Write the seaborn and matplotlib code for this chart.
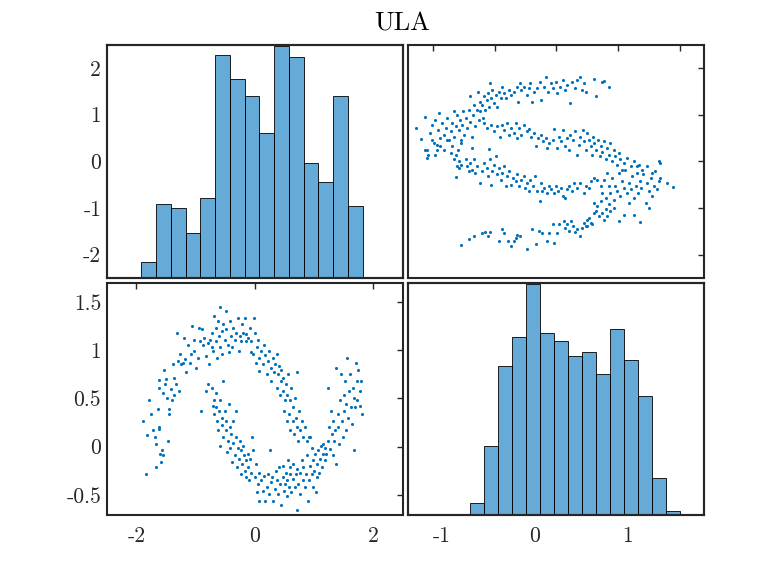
import matplotlib
matplotlib.use("Agg")
from matplotlib import pyplot as plt
import numpy as np
import pandas as pd
import seaborn as sns

# Histogram of variable 1 (top-left): first bin edge, bin width, counts
h1_start = -1.914
h1_width = 0.249
h1_counts = [8, 38, 36, 23, 41, 114, 102, 93, 74, 119, 113, 59, 49, 93, 37]

# Histogram of variable 2 (bottom-right)
h2_start = -0.691
h2_width = 0.150
h2_counts = [6, 35, 76, 91, 118, 93, 89, 81, 83, 72, 95, 79, 61, 19, 2]

# Bottom-left scatter (x = var 1, y = var 2): upper arch and lower "U"
arch_pts = [
    (-1.89, 0.27), (-1.84, -0.28), (-1.82, 0.12), (-1.78, 0.48), (-1.75, 0.34), (-1.72, 0.17),
    (-1.69, 0.10), (-1.67, -0.21), (-1.66, 0.03), (-1.64, 0.39), (-1.62, 0.20), (-1.61, 0.18),
    (-1.60, -0.08), (-1.58, -0.16), (-1.56, -0.04), (-1.55, -0.09), (-1.62, 0.69), (-1.61, 0.61),
    (-1.55, 0.56), (-1.54, 0.80), (-1.51, 0.65), (-1.50, 0.70), (-1.49, 0.51), (-1.47, 0.06),
    (-1.45, 0.34), (-1.44, 0.39), (-1.41, 0.60), (-1.40, 0.48), (-1.38, 0.86), (-1.37, 0.71),
    (-1.36, 0.54), (-1.33, 0.65), (-1.32, 1.18), (-1.30, 0.89), (-1.28, 0.58), (-1.27, 0.96),
    (-1.24, 0.86), (-1.21, 0.87), (-1.19, 1.13), (-1.17, 0.91), (-1.16, 0.77), (-1.13, 1.06),
    (-1.10, 0.87), (-1.07, 0.96), (-1.06, 1.25), (-1.03, 1.11), (-1.02, 0.99), (-0.99, 0.82),
    (-0.96, 0.92), (-0.94, 1.23), (-0.93, 1.10), (-0.90, 0.37), (-0.89, 1.22), (-0.88, 1.06),
    (-0.85, 1.13), (-0.82, 0.94), (-0.79, 1.08), (-0.77, 0.86), (-0.76, 1.11), (-0.73, 1.04),
    (-0.72, 1.18), (-0.71, 0.99), (-0.68, 1.36), (-0.66, 1.23), (-0.65, 1.10), (-0.64, 0.92),
    (-0.62, 1.31), (-0.60, 1.15), (-0.59, 1.04), (-0.58, 1.45), (-0.56, 1.20), (-0.55, 0.96),
    (-0.54, 1.27), (-0.51, 1.11), (-0.49, 1.41), (-0.48, 1.22), (-0.45, 1.06), (-0.44, 0.98),
    (-0.42, 1.31), (-0.40, 1.15), (-0.38, 1.03), (-0.37, 1.23), (-0.34, 1.11), (-0.31, 1.18),
    (-0.28, 1.34), (-0.27, 0.99), (-0.25, 1.15), (-0.23, 1.10), (-0.21, 1.27), (-0.20, 1.18),
    (-0.17, 1.34), (-0.15, 1.10), (-0.14, 1.17), (-0.11, 1.13), (-0.08, 1.23), (-0.07, 0.98),
    (-0.06, 1.10), (-0.03, 0.96), (-0.01, 1.34), (0.00, 1.18), (0.02, 0.87), (0.03, 1.03),
    (0.06, 1.11), (0.07, 0.92), (0.08, 0.79), (0.11, 0.99), (0.14, 0.86), (0.15, 1.06),
    (0.17, 0.95), (0.20, 0.75), (0.23, 0.89), (0.24, 0.99), (0.27, 0.82), (0.28, 0.68),
    (0.31, 0.92), (0.32, 0.77), (0.34, 0.86), (0.37, 0.61), (0.38, 0.96), (0.40, 0.75),
    (0.41, 0.84), (0.42, 0.54), (0.44, 0.68), (0.45, 0.80), (0.47, 0.58), (0.48, 0.71),
    (0.49, 0.37), (0.51, 0.48), (0.53, 0.65), (0.54, 0.27), (0.55, 0.54), (0.56, 0.75),
    (0.58, 0.34), (0.59, 0.48), (0.60, 0.17), (0.62, 0.61), (0.64, 0.27), (0.65, 0.41),
    (0.67, 0.13), (0.68, 0.51), (0.69, 0.30), (0.71, 0.77), (0.72, 0.20), (0.73, 0.06),
    (0.75, 0.37), (0.76, 0.17), (0.79, 0.27), (0.82, 0.10), (0.85, 0.20), (0.88, 0.06),
    (0.92, 0.10), (0.96, -0.01),
]
u_pts = [
    (-0.82, 0.58), (-0.79, 0.65), (-0.73, 0.61), (-0.71, 0.42), (-0.69, 0.48), (-0.68, 0.34),
    (-0.66, 0.41), (-0.65, 0.56), (-0.64, 0.27), (-0.62, 0.17), (-0.60, 0.37), (-0.59, 0.48),
    (-0.58, 0.01), (-0.56, 0.30), (-0.55, 0.22), (-0.54, 0.68), (-0.53, 0.10), (-0.51, 0.37),
    (-0.49, 0.27), (-0.48, 0.17), (-0.47, -0.06), (-0.45, 0.06), (-0.44, 0.44), (-0.42, 0.20),
    (-0.41, -0.01), (-0.40, 0.13), (-0.38, -0.16), (-0.37, 0.04), (-0.36, 0.27), (-0.34, -0.09),
    (-0.32, 0.37), (-0.31, 0.10), (-0.30, -0.21), (-0.28, -0.01), (-0.27, -0.13), (-0.25, 0.06),
    (-0.24, -0.28), (-0.23, -0.04), (-0.21, -0.18), (-0.20, 0.01), (-0.18, -0.09), (-0.17, -0.25),
    (-0.15, -0.14), (-0.14, -0.32), (-0.12, -0.08), (-0.11, -0.21), (-0.10, -0.35), (-0.08, -0.13),
    (-0.06, -0.27), (-0.04, 0.10), (-0.03, -0.04), (0.00, -0.32), (0.02, -0.18), (0.03, -0.47),
    (0.06, -0.39), (0.07, -0.56), (0.08, -0.27), (0.11, -0.35), (0.14, -0.46), (0.15, -0.30),
    (0.17, -0.56), (0.20, -0.42), (0.23, -0.28), (0.24, -0.49), (0.25, -0.04), (0.27, -0.37),
    (0.30, -0.32), (0.31, -0.56), (0.34, -0.44), (0.36, -0.25), (0.37, -0.35), (0.40, -0.49),
    (0.41, -0.21), (0.42, -0.39), (0.45, -0.61), (0.47, -0.32), (0.48, -0.20), (0.49, -0.46),
    (0.51, -0.39), (0.53, -0.27), (0.54, -0.51), (0.55, -0.35), (0.56, -0.14), (0.58, -0.42),
    (0.59, -0.28), (0.60, -0.21), (0.62, -0.47), (0.64, -0.34), (0.65, -0.18), (0.68, -0.42),
    (0.69, -0.28), (0.71, -0.66), (0.72, -0.23), (0.73, -0.39), (0.76, -0.49), (0.77, -0.27),
    (0.79, -0.14), (0.81, -0.35), (0.82, -0.21), (0.85, -0.42), (0.86, -0.28), (0.88, -0.09),
    (0.90, -0.56), (0.92, -0.35), (0.93, -0.20), (0.94, 0.10), (0.96, -0.28), (0.98, -0.14),
    (0.99, -0.42), (1.00, -0.25), (1.02, -0.08), (1.03, -0.47), (1.05, -0.18), (1.06, -0.32),
    (1.07, -0.04), (1.09, -0.27), (1.10, -0.13), (1.12, 0.01), (1.13, -0.21), (1.15, -0.08),
    (1.16, 0.03), (1.18, -0.14), (1.19, -0.01), (1.21, -0.08), (1.23, 0.61), (1.24, 0.06),
    (1.26, 0.20), (1.27, -0.02), (1.28, 0.37), (1.30, 0.13), (1.32, -0.09), (1.33, 0.27),
    (1.34, 0.06), (1.36, 0.17), (1.37, 0.82), (1.38, -0.18), (1.40, 0.34), (1.41, 0.20),
    (1.43, 0.03), (1.44, 0.48), (1.45, 0.75), (1.47, 0.27), (1.49, 0.10), (1.50, 0.54),
    (1.51, 0.37), (1.53, 0.68), (1.54, 0.17), (1.55, 0.44), (1.56, 0.92), (1.58, 0.30),
    (1.60, 0.58), (1.61, 0.75), (1.62, 0.41), (1.64, 0.23), (1.66, 0.61), (1.67, 0.51),
    (1.68, -0.04), (1.69, 0.41), (1.71, 0.87), (1.72, 0.68), (1.73, 0.48), (1.75, 0.80),
    (1.77, 0.58), (1.78, 0.42), (1.80, 0.68), (1.81, 0.34),
]

# Top-right scatter: top arc, middle band, lower band, right lobe, bottom band
top_arc_pts = [
    (-2.28, 0.71), (-2.20, 0.48), (-2.12, 0.95), (-2.10, 0.25), (-2.08, 0.14), (-2.04, 0.60),
    (-2.01, 0.78), (-1.98, 0.39), (-1.96, 0.89), (-1.94, 0.25), (-1.92, 0.68), (-1.90, 1.03),
    (-1.88, 0.50), (-1.85, 0.82), (-1.82, 0.57), (-1.79, 0.71), (-1.77, 0.93), (-1.74, 0.46),
    (-1.71, 0.64), (-1.69, 0.82), (-1.66, 0.53), (-1.65, 1.07), (-1.63, 0.75), (-1.61, 1.00),
    (-1.59, 0.25), (-1.58, 0.68), (-1.56, 0.89), (-1.55, 0.46), (-1.52, 0.78), (-1.51, 1.07),
    (-1.50, 0.57), (-1.47, 0.93), (-1.44, 0.71), (-1.42, 1.10), (-1.40, 1.39), (-1.39, 0.85),
    (-1.36, 0.53), (-1.35, 1.00), (-1.34, 1.21), (-1.31, 0.75), (-1.29, 1.10), (-1.27, 1.49),
    (-1.25, 0.89), (-1.24, 1.28), (-1.23, 1.07), (-1.20, 1.21), (-1.18, 0.93), (-1.17, 1.39),
    (-1.15, 1.10), (-1.13, 1.32), (-1.11, 1.46), (-1.09, 1.17), (-1.08, 1.67), (-1.06, 1.35),
    (-1.04, 1.53), (-1.01, 1.25), (-0.98, 1.42), (-0.96, 1.17), (-0.93, 1.49), (-0.90, 1.35),
    (-0.88, 1.60), (-0.85, 1.46), (-0.81, 1.35), (-0.77, 1.53), (-0.74, 1.42), (-0.69, 1.49),
    (-0.64, 1.60), (-0.62, 1.28), (-0.59, 1.67), (-0.57, 1.53), (-0.52, 1.60), (-0.48, 1.42),
    (-0.44, 1.57), (-0.42, 1.67), (-0.39, 1.28), (-0.36, 1.49), (-0.31, 1.57), (-0.26, 1.71),
    (-0.24, 1.32), (-0.20, 1.60), (-0.16, 1.80), (-0.14, 1.49), (-0.09, 1.67), (-0.05, 1.57),
    (-0.01, 1.71), (0.02, 1.46), (0.06, 1.60), (0.11, 1.74), (0.14, 1.53), (0.18, 1.64),
    (0.23, 1.25), (0.26, 1.71), (0.30, 1.57), (0.34, 1.74), (0.38, 1.81), (0.42, 1.53),
    (0.45, 1.67), (0.49, 1.49), (0.61, 1.76), (0.64, 1.39), (0.75, 1.71), (0.78, 1.73),
    (0.85, 1.59),
]
mid_band_pts = [
    (-2.12, 0.25), (-2.09, 0.07), (-2.01, 0.46), (-1.96, 0.14), (-1.93, 0.36), (-1.89, 0.32),
    (-1.82, 0.25), (-1.77, 0.46), (-1.71, 0.18), (-1.69, 0.32), (-1.66, 0.04), (-1.63, 0.14),
    (-1.61, -0.11), (-1.58, 0.00), (-1.55, 0.39), (-1.36, 0.28), (-1.09, 0.26),
    (-1.17, 0.82), (-1.12, 0.71), (-1.06, 0.78), (-1.01, 0.64), (-0.96, 0.75), (-0.91, 0.53),
    (-0.88, 0.78), (-0.84, 0.68), (-0.79, 0.82), (-0.77, 0.57), (-0.73, 0.71), (-0.69, 0.60),
    (-0.66, 0.82), (-0.63, 0.50), (-0.61, 0.71), (-0.57, 0.57), (-0.52, 0.78), (-0.48, 0.64),
    (-0.44, 0.69), (-0.41, 0.53), (-0.36, 0.60), (-0.32, 0.33), (-0.30, 0.50), (-0.25, 0.57),
    (-0.21, 0.43), (-0.17, 0.50), (-0.15, 0.28), (-0.12, 0.39), (-0.06, 0.46), (-0.03, 0.69),
    (0.02, 0.28), (0.04, 0.53), (0.07, 0.43), (0.11, 0.68), (0.15, 0.32), (0.18, 0.50),
    (0.21, 0.25), (0.23, 0.57), (0.28, 0.46), (0.31, 0.64), (0.34, 0.14), (0.37, 0.36),
    (0.39, 0.53), (0.44, 0.68), (0.45, 0.43), (0.48, 0.25), (0.50, 0.60), (0.53, 0.46),
    (0.56, 0.32), (0.58, 0.14), (0.60, 0.53), (0.62, 0.39), (0.65, 0.25), (0.68, 0.46),
    (0.71, 0.11), (0.72, 0.32), (0.75, 0.21), (0.77, 0.43), (0.80, 0.04), (0.83, 0.28),
    (0.85, 0.14), (0.88, 0.39), (0.91, 0.00), (0.94, 0.25), (0.96, 0.11), (0.99, -0.07),
    (1.02, 0.18), (1.04, 0.04), (1.07, -0.18), (1.10, -0.03), (1.15, 0.07), (1.21, -0.11),
    (1.26, 0.00), (1.31, -0.25), (1.34, -0.07), (1.39, -0.18), (1.48, -0.11), (1.56, -0.25),
    (1.66, 0.00), (1.69, -0.36), (1.80, -0.46), (1.90, -0.56),
]
low_band_pts = [
    (-1.63, -0.33), (-1.58, -0.14), (-1.55, -0.07), (-1.47, 0.04), (-1.44, -0.11), (-1.42, -0.21),
    (-1.39, -0.04), (-1.36, -0.18), (-1.34, 0.04), (-1.31, -0.25), (-1.28, -0.11), (-1.23, -0.46),
    (-1.20, -0.21), (-1.17, -0.04), (-1.13, -0.14), (-1.11, -0.32), (-1.08, 0.04), (-1.06, -0.50),
    (-1.04, -0.21), (-1.01, -0.07), (-0.98, 0.11), (-0.96, -0.28), (-0.93, -0.14), (-0.90, -0.39),
    (-0.88, -0.25), (-0.85, -0.11), (-0.82, -0.53), (-0.79, -0.32), (-0.77, -0.21), (-0.74, -0.50),
    (-0.70, -0.36), (-0.66, -0.43), (-0.63, -0.28), (-0.61, -0.53), (-0.57, -0.39), (-0.52, -0.32),
    (-0.50, -0.57), (-0.47, -0.46), (-0.44, -0.64), (-0.42, -0.39), (-0.37, -0.53), (-0.34, -0.32),
    (-0.31, -0.64), (-0.26, -0.85), (-0.25, -0.46), (-0.23, -0.64), (-0.19, -0.57), (-0.15, -0.68),
    (-0.12, -0.53), (-0.08, -0.60), (-0.04, -0.68), (-0.01, -0.53), (0.03, -0.64), (0.07, -0.57),
    (0.11, -0.75), (0.15, -0.78), (0.18, -0.60), (0.21, -0.53), (0.26, -0.64), (0.29, -0.46),
    (0.34, -0.57), (0.39, -0.46), (0.45, -0.68), (0.48, -0.53), (0.53, -0.57), (0.56, -0.43),
    (0.61, -0.36), (0.66, -0.39),
]
right_lobe_pts = [
    (0.72, -0.53), (0.75, -0.68), (0.77, -0.39), (0.80, -0.78), (0.83, -0.25), (0.85, -0.53),
    (0.88, -0.68), (0.91, -0.36), (0.94, -0.82), (0.96, -0.53), (0.99, -0.64), (1.02, -0.25),
    (1.04, -0.75), (1.07, -0.43), (1.10, -0.57), (1.12, -0.18), (1.15, -0.68), (1.18, -0.46),
    (1.21, -0.60), (1.23, -0.32), (1.26, -0.78), (1.29, -0.53), (1.31, -0.11), (1.32, -0.68),
    (1.36, -0.43), (1.38, -0.57), (1.41, -0.28), (1.45, -0.89), (1.48, -0.46), (1.50, -0.64),
    (1.53, -0.36), (1.56, -0.75), (1.58, -0.53), (1.61, -0.21), (1.64, -0.60), (1.66, -0.43),
    (1.68, -0.04), (1.50, -1.00), (1.36, -1.30),
    (0.61, -0.89), (0.64, -1.07), (0.66, -0.96), (0.69, -1.17), (0.72, -0.85), (0.75, -1.10),
    (0.77, -1.25), (0.80, -1.03), (0.83, -1.17), (0.85, -0.92), (0.88, -1.07), (0.94, -1.00),
    (1.02, -1.28), (1.10, -1.14), (1.18, -0.89), (1.26, -1.14), (0.53, -1.21), (0.58, -1.35),
    (0.50, -1.39),
]
bottom_band_pts = [
    (-1.55, -1.80), (-1.42, -1.66), (-1.34, -1.59), (-1.20, -1.53), (-1.15, -1.52), (-1.11, -1.60),
    (-1.08, -1.52), (-0.93, -1.71), (-0.88, -1.46), (-0.85, -1.53), (-0.78, -1.71), (-0.74, -1.81),
    (-0.69, -1.71), (-0.66, -1.64), (-0.63, -1.57), (-0.58, -1.60), (-0.47, -1.87), (-0.39, -1.44),
    (-0.32, -1.78), (-0.28, -1.49), (-0.23, -1.53), (-0.15, -1.71), (-0.12, -1.53), (-0.06, -1.35),
    (-0.03, -1.74), (0.01, -1.53), (0.04, -1.35), (0.12, -1.28), (0.15, -1.42), (0.18, -1.35),
    (0.21, -1.49), (0.24, -1.28), (0.28, -1.39), (0.31, -1.52), (0.34, -1.46), (0.38, -1.60),
    (0.42, -1.42), (0.45, -1.32), (0.48, -1.39), (0.50, -1.25), (0.56, -1.32), (0.61, -1.10),
]

# Tick labels
tl_yticks = [-2, -1, 0, 1, 2]
bl_xticks = [-2, 0, 2]
bl_yticks = [-0.5, 0, 0.5, 1, 1.5]
br_xticks = [-1, 0, 1]

blue = "#0072BD"
ink = "#262626"
label_size = 15.5

sns.set_style("white")
plt.rcParams["font.family"] = ["cmr10", "DejaVu Serif"]
plt.rcParams["axes.unicode_minus"] = False
plt.rcParams["axes.formatter.use_mathtext"] = True
plt.rcParams["axes.linewidth"] = 1.5
plt.rcParams["axes.edgecolor"] = ink

bl_df = pd.DataFrame(arch_pts + u_pts, columns=["x", "y"])
tr_df = pd.DataFrame(top_arc_pts + mid_band_pts + low_band_pts + right_lobe_pts + bottom_band_pts,
                     columns=["x", "y"])

fig = plt.figure(figsize=(7.79, 5.85), dpi=100)

L1, L2, W = 0.137, 0.524, 0.380
B1, H1 = 0.5248, 0.3988
B2, H2 = 0.1197, 0.3966

ax_tl = fig.add_axes([L1, B1, W, H1])
ax_tr = fig.add_axes([L2, B1, W, H1])
ax_bl = fig.add_axes([L1, B2, W, H2])
ax_br = fig.add_axes([L2, B2, W, H2])


def fmt(v):
    return "%g" % v


def draw_hist(ax, start, width, counts):
    n = len(counts)
    hist_df = pd.DataFrame({"c": start + width * (np.arange(n) + 0.5), "w": counts})
    axh = ax.twinx()
    sns.histplot(data=hist_df, x="c", weights="w", binwidth=width,
                 binrange=(start, start + width * n), ax=axh, color=blue, alpha=0.6,
                 edgecolor="black", linewidth=0.6)
    axh.set_ylim(0, max(counts) * 1.004)
    axh.set_yticks([])
    axh.set_ylabel("")
    axh.set_xlabel("")
    return axh


# top-left: histogram of var 1
ax_tl.set_xlim(-2.5, 2.5)
ax_tl.set_ylim(-2.5, 2.5)
ax_tl.set_xticks([])
ax_tl.set_yticks(tl_yticks)
ax_tl.set_yticklabels([fmt(v) for v in tl_yticks])
ax_tl.tick_params(axis="y", length=0, labelsize=label_size, pad=4, colors=ink)
draw_hist(ax_tl, h1_start, h1_width, h1_counts)
ax_tl.set_xlim(-2.5, 2.5)

# bottom-right: histogram of var 2
ax_br.set_xlim(-1.36, 1.82)
ax_br.set_yticks([])
ax_br.set_xticks(br_xticks)
ax_br.set_xticklabels([fmt(v) for v in br_xticks])
ax_br.tick_params(axis="x", length=0, labelsize=label_size, pad=8, colors=ink)
draw_hist(ax_br, h2_start, h2_width, h2_counts)
ax_br.set_xlim(-1.36, 1.82)

# bottom-left scatter
sns.scatterplot(data=bl_df, x="x", y="y", ax=ax_bl, s=5, color=blue, linewidth=0)
ax_bl.set_xlim(-2.5, 2.5)
ax_bl.set_ylim(-0.71, 1.70)
ax_bl.set_xticks(bl_xticks)
ax_bl.set_xticklabels([fmt(v) for v in bl_xticks])
ax_bl.set_yticks(bl_yticks)
ax_bl.set_yticklabels([fmt(v) for v in bl_yticks])
ax_bl.tick_params(direction="in", length=4, width=1, top=True, right=True,
                  labelsize=label_size, colors=ink)
ax_bl.tick_params(axis="x", pad=8)
ax_bl.tick_params(axis="y", pad=4)
ax_bl.set_xlabel("")
ax_bl.set_ylabel("")

# top-right scatter
sns.scatterplot(data=tr_df, x="x", y="y", ax=ax_tr, s=5, color=blue, linewidth=0)
ax_tr.set_xlim(-2.4, 2.4)
ax_tr.set_ylim(-2.5, 2.5)
ax_tr.set_xticks([-2, -1, 0, 1, 2])
ax_tr.set_yticks([-2, -1, 0, 1, 2])
ax_tr.tick_params(direction="in", length=4, width=1, top=True, right=True,
                  labelbottom=False, labelleft=False, colors=ink)
ax_tr.set_xlabel("")
ax_tr.set_ylabel("")

fig.text(0.516, 0.959, "ULA", ha="center", va="center", fontsize=19, color="black")

fig.savefig("out.png", dpi=100)
